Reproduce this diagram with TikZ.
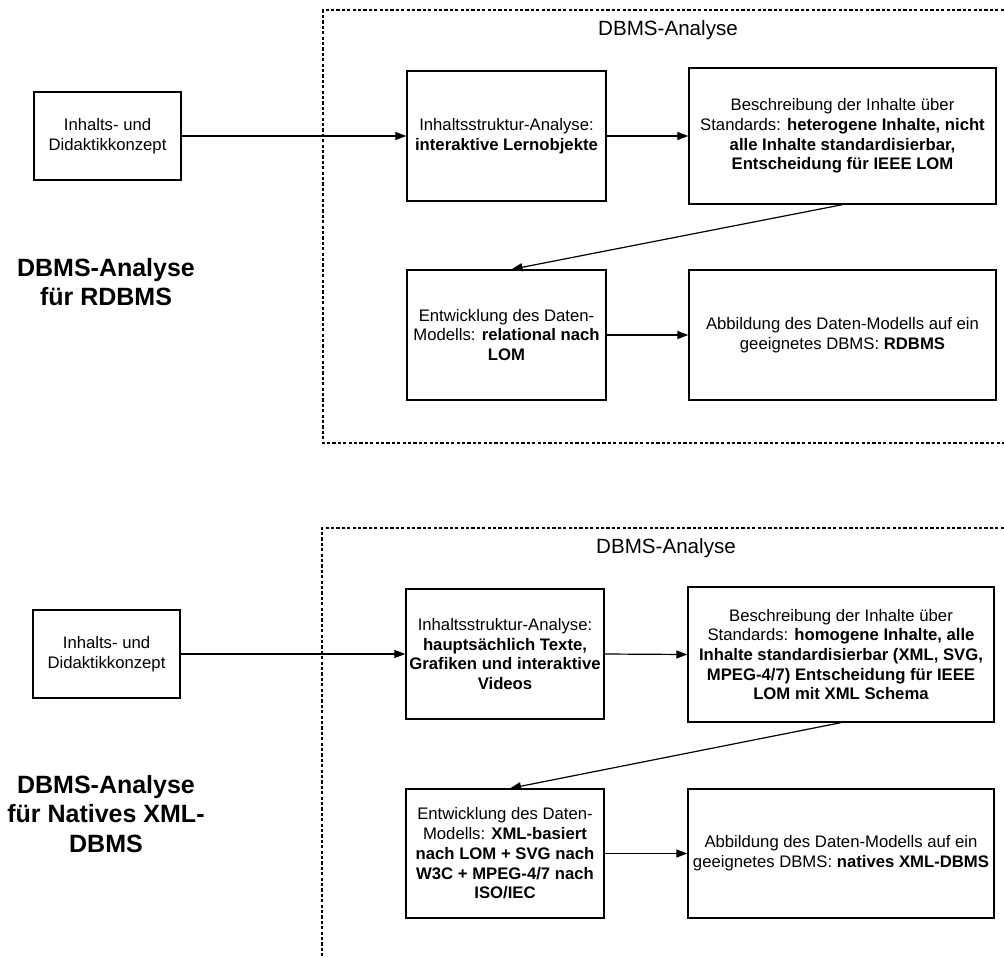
\documentclass[tikz,border=0pt]{standalone}
\usepackage{fontspec}
\setmainfont{Liberation Sans}
\usetikzlibrary{arrows.meta}

\tikzset{
  stepbox/.style={draw, line width=1.3pt, align=center, inner sep=2pt,
    font=\fontsize{16.7}{19.7}\selectfont},
  flow/.style={line width=1.2pt, -{Triangle[length=11pt,width=8pt]}},
  frame/.style={line width=1.6pt, dash pattern=on 3.2pt off 2.2pt},
  sidelabel/.style={align=center, font=\fontsize{25}{29.5}\selectfont\bfseries},
  areatitle/.style={font=\fontsize{20.6}{24}\selectfont},
}

\begin{document}
\begin{tikzpicture}[x=1pt,y=-1pt]
  \useasboundingbox (0,0) rectangle (1004,958);
  \clip (0,0) rectangle (1004,958);

  % ---------- RDBMS variant ----------
  \draw[frame] (1020,10) -- (323,10) -- (323,443) -- (1020,443);
  \node[areatitle] (t1) at (668,30) {DBMS-Analyse};
  \node[sidelabel] (l1) at (106,282) {DBMS-Analyse\\für RDBMS};

  \node[stepbox, minimum width=147pt, minimum height=88pt] (in1) at (107.5,136)
    {Inhalts- und\\Didaktikkonzept};
  \node[stepbox, minimum width=199pt, minimum height=130pt] (is1) at (506.5,136)
    {Inhaltsstruktur-Analyse:\\\textbf{interaktive Lernobjekte}};
  \node[stepbox, minimum width=307pt, minimum height=136pt] (be1) at (842.5,136)
    {Beschreibung der Inhalte über\\Standards: \textbf{heterogene Inhalte, nicht}\\\textbf{alle Inhalte standardisierbar,}\\\textbf{Entscheidung für IEEE LOM}};
  \node[stepbox, minimum width=199pt, minimum height=130pt] (en1) at (506.5,335)
    {Entwicklung des Daten-\\Modells: \textbf{relational nach}\\\textbf{LOM}};
  \node[stepbox, minimum width=307pt, minimum height=130pt] (ab1) at (842.5,335)
    {Abbildung des Daten-Modells auf ein\\geeignetes DBMS: \textbf{RDBMS}};

  \draw[flow] (in1.east) -- (is1.west);
  \draw[flow] (is1.east) -- (be1.west);
  \draw[flow] (be1.south) -- ([xshift=5pt]en1.north);
  \draw[flow] (en1.east) -- (ab1.west);

  % ---------- native XML variant ----------
  \draw[frame] (1020,528) -- (322,528) -- (322,970);
  \node[areatitle] (t2) at (666,548) {DBMS-Analyse};
  \node[sidelabel] (l2) at (106,814) {DBMS-Analyse\\für Natives XML-\\DBMS};

  \node[stepbox, minimum width=147pt, minimum height=88pt] (in2) at (106.5,654)
    {Inhalts- und\\Didaktikkonzept};
  \node[stepbox, minimum width=198pt, minimum height=130pt] (is2) at (505,654)
    {Inhaltsstruktur-Analyse:\\\textbf{hauptsächlich Texte,}\\\textbf{Grafiken und interaktive}\\\textbf{Videos}};
  \node[stepbox, minimum width=306pt, minimum height=135pt] (be2) at (841,654.5)
    {Beschreibung der Inhalte über\\Standards: \textbf{homogene Inhalte, alle}\\\textbf{Inhalte standardisierbar (XML, SVG,}\\\textbf{MPEG-4/7) Entscheidung für IEEE}\\\textbf{LOM mit XML Schema}};
  \node[stepbox, minimum width=198pt, minimum height=129pt] (en2) at (505,853.5)
    {Entwicklung des Daten-\\Modells: \textbf{XML-basiert}\\\textbf{nach LOM + SVG nach}\\\textbf{W3C + MPEG-4/7 nach}\\\textbf{ISO/IEC}};
  \node[stepbox, minimum width=306pt, minimum height=129pt] (ab2) at (841,853.5)
    {Abbildung des Daten-Modells auf ein\\geeignetes DBMS: \textbf{natives XML-DBMS}};

  \draw[flow] (in2.east) -- (is2.west);
  \draw[flow] (is2.east) -- (be2.west);
  \draw[flow] (be2.south) -- ([xshift=5pt]en2.north);
  \draw[flow] (en2.east) -- (ab2.west);
\end{tikzpicture}
\end{document}
